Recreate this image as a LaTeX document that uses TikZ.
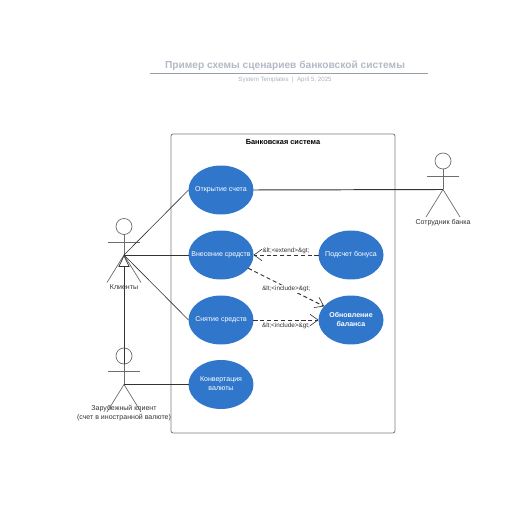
\documentclass[tikz,border=0pt]{standalone}
\usepackage{fontspec}
\setmainfont{Liberation Sans}
\usepackage{xcolor}
\usepackage{tikz}
\usetikzlibrary{positioning,arrows.meta,shapes.geometric}
\definecolor{caso}{RGB}{48,119,204}
\definecolor{trazo}{RGB}{51,51,51}
\definecolor{figura}{RGB}{110,110,110}
\definecolor{marco}{RGB}{125,125,125}
\definecolor{titulo}{RGB}{178,186,198}
\definecolor{subtitulo}{RGB}{170,178,190}
\newcommand{\caso}[1]{\makebox[0pt]{\raisebox{-1.2pt}{\begin{tabular}{@{}c@{}}#1\end{tabular}}}}
\tikzset{
  usecase/.style={ellipse, fill=caso, text=white, minimum width=1.3cm, minimum height=0.98cm, inner sep=0pt, outer sep=0pt, align=center, font=\fontsize{4}{5.2}\selectfont},
  etiqueta/.style={font=\fontsize{4}{5.2}\selectfont, text=trazo, align=center, inner sep=0.5pt},
  nota/.style={font=\fontsize{3.6}{4.5}\selectfont, text=trazo, inner sep=0.5pt},
  enlace/.style={trazo, line width=0.55pt},
  enlacefino/.style={trazo, line width=0.35pt},
  punteado/.style={trazo, line width=0.55pt, dashed, dash pattern=on 2.3pt off 1.6pt, -{Straight Barb[length=4.5pt,width=6.5pt,line width=0.35pt]}},
  cabeza/.style={circle, draw=figura, line width=0.4pt, minimum size=0.32cm, inner sep=0pt, outer sep=0pt},
  cuerpo/.style={figura, line width=0.4pt}
}
\begin{document}
\begin{tikzpicture}[x=0.02cm, y=-0.02cm]
  \useasboundingbox (0,0) rectangle (516,516);
  \fill[white] (0,0) rectangle (516,516);
  % titulo
  \node[font=\fontsize{5.8}{7}\selectfont\bfseries, text=titulo] (tituloDiagrama) at (285,66) {Пример схемы сценариев банковской системы};
  \draw[titulo!85!black, line width=0.4pt] (150,73) -- (428,73);
  \node[font=\fontsize{3.5}{4}\selectfont, text=subtitulo] (subtituloDiagrama) at (285,79.5) {System Templates \ | \ April 5, 2025};
  % sistema
  \draw[marco, line width=0.45pt, rounded corners=1.2pt] (171,134) rectangle (395,433);
  \node[font=\fontsize{4.2}{5}\selectfont\bfseries, text=black] (nombreSistema) at (283,142.5) {Банковская система};
  % casos de uso
  \node[usecase] (apertura) at (221,190) {\caso{Открытие счета}};
  \node[usecase] (deposito) at (221,255) {\caso{Внесение средств}};
  \node[usecase] (retiro) at (221,320) {\caso{Снятие средств}};
  \node[usecase] (conversion) at (221,384.5) {\caso{Конвертация\\валюты}};
  \node[usecase] (bono) at (351,255) {\caso{Подсчет бонуса}};
  \node[usecase] (balance) at (351,320) {\caso{\textbf{Обновление}\\\textbf{баланса}}};
  % actores
  \foreach \nombre/\x/\y in {cliente/124/226.5, extranjero/124/356, empleado/443/161} {
    \node[cabeza] (\nombre Cabeza) at (\x,\y) {};
    \coordinate (\nombre Cadera) at (\x,\y+28.5);
    \draw[cuerpo] (\nombre Cabeza.south) -- (\nombre Cadera);
    \draw[cuerpo] (\x-16,\y+15.5) -- (\x+16,\y+15.5);
    \draw[cuerpo] (\x-17,\y+56) -- (\nombre Cadera) -- (\x+17,\y+56);
  }
  \node[etiqueta] (clienteNombre) at (124,287.5) {Клиенты};
  \node[etiqueta] (extranjeroNombre) at (124,413) {Зарубежный клиент\\(счет в иностранной валюте)};
  \node[etiqueta] (empleadoNombre) at (443,223) {Сотрудник банка};
  % conexiones
  \draw[enlacefino] (clienteCadera) -- (apertura.west);
  \draw[enlace] (clienteCadera) -- (deposito.west);
  \draw[enlacefino] (clienteCadera) -- (retiro.west);
  \draw[enlace, {Triangle[open,length=6.8pt,width=6.4pt,line width=0.4pt]}-] (clienteCadera) -- (extranjeroCabeza.south);
  \draw[enlace] (extranjeroCadera) -- (conversion.west);
  \draw[enlace] (apertura.east) -- (empleadoCadera);
  \draw[punteado] (bono.west) -- (deposito.east);
  \draw[punteado] (deposito.-26) -- (balance.153) node[midway, nota, fill=white, yshift=-0.8pt] (incluyeUno) {\&lt;<include>\&gt;};
  \draw[punteado] (retiro.east) -- (balance.west);
  \node[nota] (extiende) at (286,250.5) {\&lt;<extend>\&gt;};
  \node[nota] (incluyeDos) at (286,325.5) {\&lt;<include>\&gt;};
\end{tikzpicture}
\end{document}
